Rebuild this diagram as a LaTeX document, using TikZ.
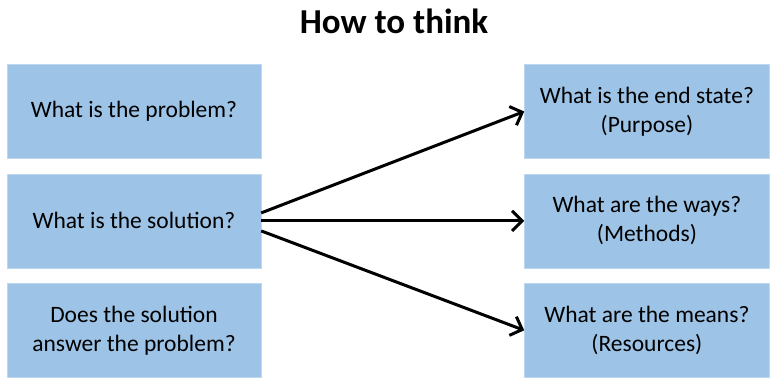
\documentclass[tikz,border=0pt]{standalone}
\usepackage{fontspec}
\setmainfont{Carlito}
\usepackage{tikz}
\usetikzlibrary{arrows.meta, positioning}
\definecolor{boxBlue}{RGB}{157,195,230}
\definecolor{boxEdge}{RGB}{190,215,238}
\tikzset{
  thinkNode/.style={
    draw=boxEdge,
    fill=boxBlue,
    align=center,
    inner sep=0pt,
    minimum height=94pt,
    font=\fontsize{23.5}{29}\selectfont
  },
  askNode/.style={thinkNode, minimum width=254pt},
  answerNode/.style={thinkNode, minimum width=245pt},
  thinkFlow/.style={-{Straight Barb[length=10pt,width=20pt,line width=3pt]}, line width=3pt, draw=black}
}

\begin{document}
\begin{tikzpicture}[x=1pt, y=1pt, node distance=15pt]
  \useasboundingbox (0,0) rectangle (773,-378);
  \node[anchor=base, font=\fontsize{35}{40}\selectfont\bfseries] (title) at (394,-33) {How to think};

  \node[askNode] (problem) at (134,-111.5) {What is the problem?};
  \node[askNode, below=of problem] (solution) {What is the solution?};
  \node[askNode, below=of solution] (check) {Does the solution\\answer the problem?};

  \node[answerNode, right=263pt of problem.east, anchor=west] (endstate) {What is the end state?\\(Purpose)};
  \node[answerNode, right=263pt of solution.east, anchor=west] (ways) {What are the ways?\\(Methods)};
  \node[answerNode, right=263pt of check.east, anchor=west] (means) {What are the means?\\(Resources)};

  \draw[thinkFlow] ([yshift=8pt]solution.east) -- (endstate.west);
  \draw[thinkFlow] (solution.east) -- (ways.west);
  \draw[thinkFlow] ([yshift=-10pt]solution.east) -- (means.west);
\end{tikzpicture}
\end{document}
